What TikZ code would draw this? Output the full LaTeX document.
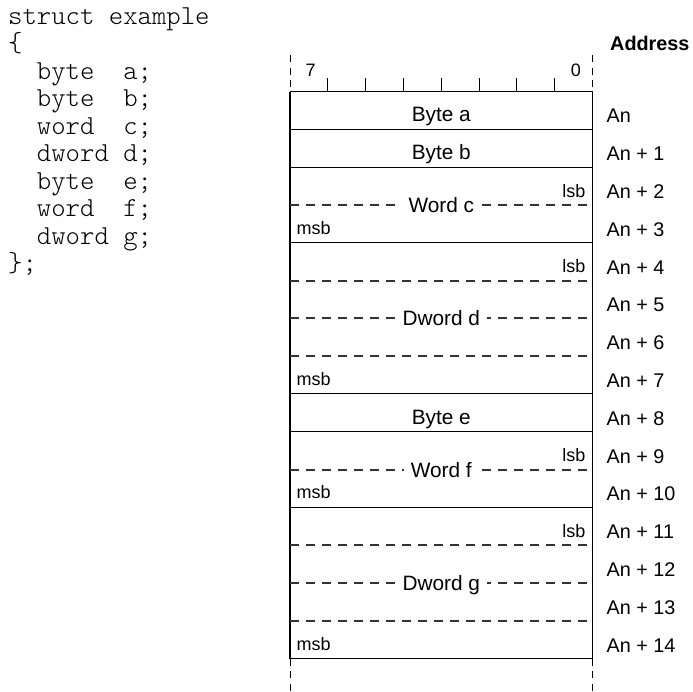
\documentclass[tikz,border=0pt]{standalone}
\usepackage{fontspec}
\setmainfont{Liberation Sans}
\setmonofont{Latin Modern Mono Light}
\begin{document}
\begin{tikzpicture}[x=1pt,y=-1pt,
  frame/.style={line width=1.1pt,black},
  seam/.style={line width=1.3pt,black!80,dash pattern=on 9pt off 7pt},
  guide/.style={line width=0.9pt,black,dash pattern=on 7pt off 5.5pt},
  code/.style={anchor=base west,inner sep=0pt,font=\fontsize{27.4}{27.5}\selectfont\ttfamily},
  field/.style={anchor=base,inner sep=0pt,font=\fontsize{20.8}{24}\selectfont},
  wlabel/.style={anchor=base,fill=white,inner xsep=7pt,inner ysep=1pt,font=\fontsize{20.8}{24}\selectfont},
  bitend/.style={inner sep=0pt,font=\fontsize{18}{20}\selectfont},
  addr/.style={anchor=base west,inner sep=0pt,font=\fontsize{19.8}{22}\selectfont}]
\useasboundingbox (0,0) rectangle (693,691);

% geometry of the byte table
\def\L{290}\def\R{592.5}\def\T{91.5}\def\h{37.8}\def\w{37.8125}
\def\cx{441.25}

% source listing
\node[code] (l0) at (8,24) {struct example};
\node[code] (l1) at (8,51.5) {\{};
\node[code] (l2) at (8,79) {~~byte~~a;};
\node[code] (l3) at (8,106.5) {~~byte~~b;};
\node[code] (l4) at (8,134) {~~word~~c;};
\node[code] (l5) at (8,161.5) {~~dword~d;};
\node[code] (l6) at (8,189) {~~byte~~e;};
\node[code] (l7) at (8,216.5) {~~word~~f;};
\node[code] (l8) at (8,244) {~~dword~g;};
\node[code] (l9) at (8,271.5) {\};};

% dashed continuation of the table sides
\draw[guide] (\L,55) -- (\L,\T);
\draw[guide] (\R,55) -- (\R,\T);
\draw[guide] (\L,{\T+15*\h}) -- (\L,691);
\draw[guide] (\R,{\T+15*\h}) -- (\R,691);

% bit ruler
\foreach \k in {1,...,7}
  \draw[frame] ({\L+\k*\w},\T) -- ++(0,-14);
\node[bitend,anchor=base west] (b7) at (305.5,76.7) {7};
\node[bitend,anchor=base east] (b0) at (581,76.7) {0};

% table outline
\draw[frame] (\L,\T) -- (\L,{\T+15*\h});
\draw[frame] (\R,\T) -- (\R,{\T+15*\h});
\foreach \i in {0,1,2,4,8,9,11,15}
  \draw[frame] (\L,{\T+\i*\h}) -- (\R,{\T+\i*\h});
% inner byte seams, snapped to whole units so they all render alike
\foreach \i in {3,5,6,7,10,12,13,14}{
  \pgfmathsetmacro\yy{round(\T+\i*\h)}
  \draw[seam] (\L,\yy) -- (\R,\yy);
}

% single-byte fields
\node[field] (fa) at (\cx,{\T+0.5*\h+11.4}) {Byte a};
\node[field] (fb) at (\cx,{\T+1.5*\h+11.4}) {Byte b};
\node[field] (fe) at (\cx,{\T+8.5*\h+11.4}) {Byte e};

% multi-byte fields
\node[wlabel] (fc) at (\cx,{\T+3*\h+7.5}) {Word c};
\node[wlabel] (fd) at (\cx,{\T+6*\h+7.5}) {Dword d};
\node[wlabel] (ff) at (\cx,{\T+10*\h+7.5}) {Word f};
\node[wlabel] (fg) at (\cx,{\T+13*\h+7.5}) {Dword g};

% byte order marks
\foreach \n/\a/\b in {c/3/4, d/5/8, f/10/11, g/12/15}{
  \node[bitend,anchor=base east] (lsb\n) at ({\R-7},{\T+\a*\h-7.7}) {lsb};
  \node[bitend,anchor=base west] (msb\n) at ({\L+6.5},{\T+\b*\h-8.5}) {msb};
}

% addresses
\node[anchor=base west,inner sep=0pt,font=\fontsize{19.8}{22}\selectfont\bfseries] (addr) at (610,50.5) {Address};
\node[addr] (a0) at (606.5,{\T+0.5*\h+12.5}) {An};
\foreach \i in {1,...,14}
  \node[addr] (a\i) at (606.5,{\T+(\i+0.5)*\h+12.5}) {An + \i};
\end{tikzpicture}
\end{document}
